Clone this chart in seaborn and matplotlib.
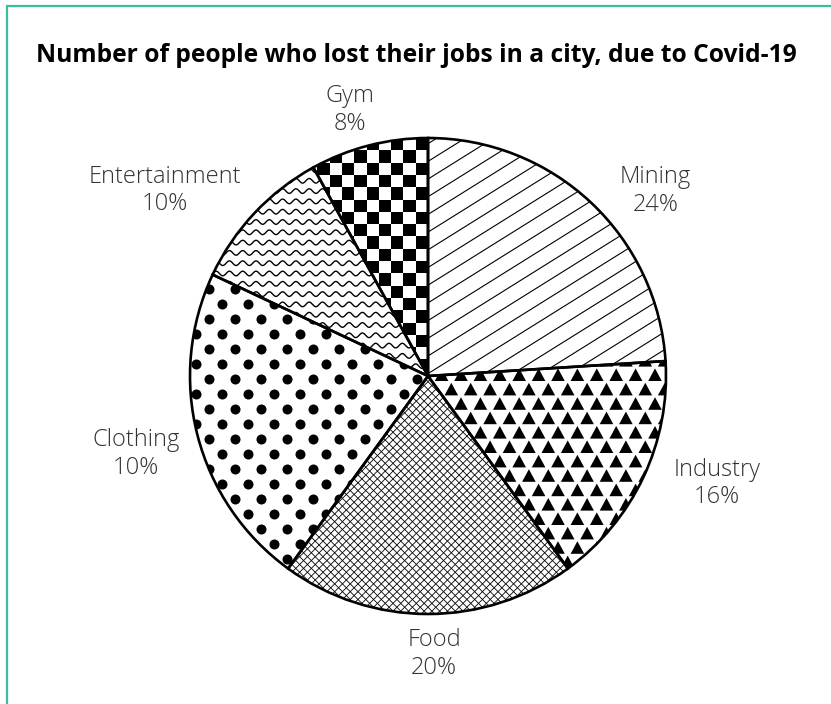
import numpy as np
import matplotlib
matplotlib.use("Agg")
import matplotlib.pyplot as plt
import seaborn as sns
from matplotlib.collections import LineCollection, PolyCollection
from matplotlib.lines import Line2D

# Job losses by sector (slice sizes) and the share text printed beside each slice
sectors = ["Mining", "Industry", "Food", "Clothing", "Entertainment", "Gym"]
shares = [24, 16, 20, 22, 10, 8]
share_labels = ["24%", "16%", "20%", "10%", "10%", "8%"]
title = "Number of people who lost their jobs in a city, due to Covid-19"

sns.set_theme(style="white")
plt.rcParams["font.family"] = ["Open Sans", "DejaVu Sans"]

W, H = 831, 704
fig = plt.figure(figsize=(W / 100, H / 100), dpi=100)
ax = fig.add_axes([0, 0, 1, 1])

cx, cy, R = 428, 328, 238
wedges, _ = ax.pie(shares, startangle=90, counterclock=False,
                   center=(cx, cy), radius=R,
                   wedgeprops=dict(facecolor="none", edgecolor="black",
                                   linewidth=1.9, zorder=5))
ax.set_xlim(0, W)
ax.set_ylim(0, H)
ax.set_aspect("equal")
ax.axis("off")

x0, x1, y0, y1 = cx - R - 20, cx + R + 20, cy - R - 20, cy + R + 20


def clip(artist, wedge):
    artist.set_clip_path(wedge)
    artist.set_zorder(2)
    ax.add_artist(artist)


def hatch_lines(angle_deg, spacing):
    a = np.deg2rad(angle_deg)
    d = np.array([np.cos(a), np.sin(a)])
    n = np.array([-d[1], d[0]])
    L = 2 * R + 60
    segs = []
    for k in np.arange(-L / 2, L / 2, spacing):
        p = np.array([cx, cy]) + n * k
        segs.append([p - d * L / 2, p + d * L / 2])
    return segs


# Mining: thin diagonal lines
clip(LineCollection(hatch_lines(32, 15), colors="black", linewidths=0.8), wedges[0])

# Industry: staggered black triangles
tris = []
dx, dy = 19.4, 14.4
for j, yy in enumerate(np.arange(y0, y1, dy)):
    off = (dx / 2) * (j % 2)
    for xx in np.arange(x0 + off, x1, dx):
        tris.append([(xx - 6.8, yy - 6.2), (xx + 6.8, yy - 6.2), (xx, yy + 6.4)])
clip(PolyCollection(tris, facecolors="black", edgecolors="none"), wedges[1])

# Food: fine diamond cross-hatch
food = hatch_lines(45, 5.5) + hatch_lines(-45, 5.5)
clip(LineCollection(food, colors="black", linewidths=0.6), wedges[2])

# Clothing: staggered polka dots
px, py = [], []
for j, yy in enumerate(np.arange(y0, y1, 15)):
    off = 13 * (j % 2)
    for xx in np.arange(x0 + off, x1, 26):
        px.append(xx)
        py.append(yy)
dots = ax.scatter(px, py, s=52, color="black", linewidths=0)
dots.set_clip_path(wedges[3])
dots.set_zorder(2)

# Entertainment: horizontal wavy lines
xs = np.linspace(x0, x1, 900)
waves = []
for yy in np.arange(y0, y1, 10.3):
    waves.append(np.column_stack([xs, yy + 2.3 * np.sin(2 * np.pi * xs / 13.3)]))
clip(LineCollection(waves, colors="black", linewidths=1.0), wedges[4])

# Gym: checkerboard
sq = 12.3
cells = []
for i in range(-int(R / sq) - 3, 2):
    for j in range(-2, int(R / sq) + 3):
        if (i + j) % 2 == 0:
            xa = cx + i * sq
            ya = cy + R - j * sq
            cells.append([(xa - sq, ya), (xa, ya), (xa, ya - sq), (xa - sq, ya - sq)])
clip(PolyCollection(cells, facecolors="black", edgecolors="none"), wedges[5])

# Sector labels placed just outside each slice, with small per-label nudges (px)
label_nudge = {"Mining": (19, -25), "Industry": (17, 0), "Food": (6, 0),
               "Clothing": (-4, -15), "Entertainment": (-3, -13), "Gym": (-15, -4)}
for w, name, pct in zip(wedges, sectors, share_labels):
    mid = np.deg2rad((w.theta1 + w.theta2) / 2)
    c, s = np.cos(mid), np.sin(mid)
    nx, ny = label_nudge[name]
    ax_ = cx + 1.06 * R * c + nx
    ay_ = cy + 1.06 * R * s + ny
    if abs(c) <= 0.3:
        ha = "center"
        va = "bottom" if s > 0 else "top"
    else:
        ha = "left" if c > 0 else "right"
        va = "center" if abs(s) < 0.5 else ("bottom" if s > 0 else "top")
    ax.text(ax_, ay_, f"{name}\n{pct}", ha=ha, va=va, multialignment="center",
            fontsize=17, fontweight="light", color="#333333", linespacing=1.21)

fig.text(416 / W, 648 / H, title, ha="center", va="center",
         fontsize=17.7, fontweight="bold", color="black")

# Teal frame along the top and left edges
frame = "#3dbd9c"
fig.add_artist(Line2D([7 / W, 7 / W], [0, 1 - 6 / H], color=frame, linewidth=1.6,
                      transform=fig.transFigure))
fig.add_artist(Line2D([7 / W, 1], [1 - 6 / H, 1 - 6 / H], color=frame, linewidth=1.6,
                      transform=fig.transFigure))

fig.savefig("out.png", dpi=100, facecolor="white")
